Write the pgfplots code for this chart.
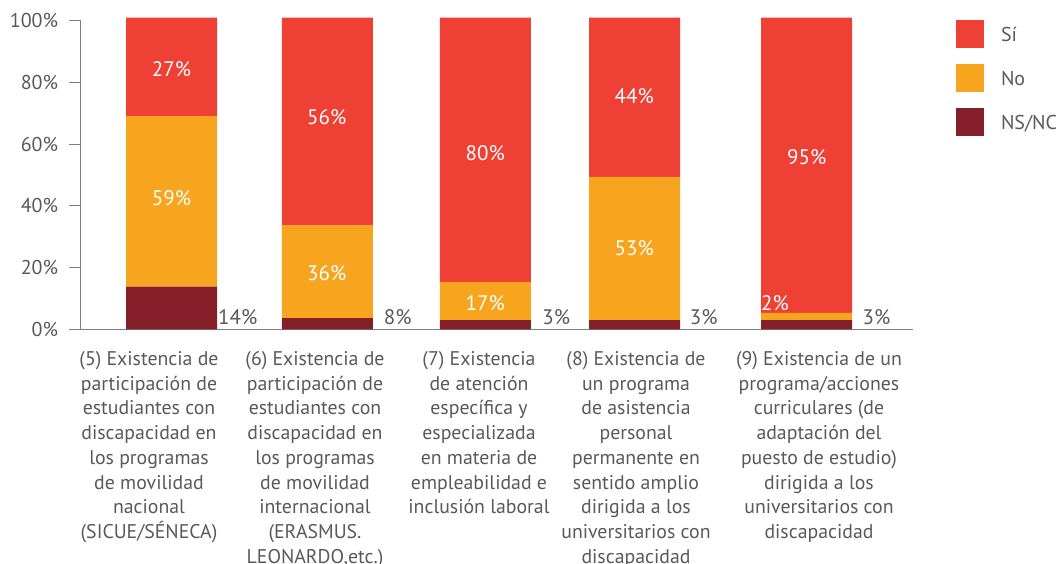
\documentclass[border=0pt]{standalone}
\usepackage{fontspec}
\setmainfont{PT Sans}
\usepackage{pgfplots}
\pgfplotsset{compat=1.18}
\definecolor{cSi}{HTML}{EF4035}
\definecolor{cNo}{HTML}{F7A51E}
\definecolor{cNS}{HTML}{85202A}
\definecolor{cTxt}{HTML}{58595B}
\definecolor{cAx}{HTML}{7F7F7F}
\begin{document}
\begin{tikzpicture}[x=1pt,y=1pt]
\useasboundingbox (0,0) rectangle (1060,-564);
\pgfplotsset{
  base/.style={
    at={(80.7pt,-329.3pt)}, anchor=south west,
    scale only axis, width=832.3pt, height=308.6pt,
    xmin=80.7, xmax=913, ymin=0, ymax=100, clip=false,
  }
}
\begin{axis}[base,
  ybar stacked, bar width=91,
  axis x line=bottom, axis y line=left,
  axis line style={-, cAx, line width=0.8pt},
  ytick={0,20,40,60,80,100},
  yticklabels={0\%,20\%,40\%,60\%,80\%,100\%},
  ytick style={cAx, line width=0.8pt},
  tick align=outside, major tick length=11.7pt,
  yticklabel style={font=\fontsize{20}{22}\selectfont, text=cTxt, anchor=east, inner sep=0pt, xshift=-10.7pt},
  xtick={149,315,479,636,819},
  xtick style={draw=none},
  xticklabels={
    {(5) Existencia de\\participación de\\estudiantes con\\discapacidad en\\los programas\\de movilidad\\nacional\\(SICUE/SÉNECA)},
    {(6) Existencia de\\participación de\\estudiantes con\\discapacidad en\\los programas\\de movilidad\\internacional\\(ERASMUS.\\LEONARDO,etc.)},
    {(7) Existencia\\de atención\\específica y\\especializada\\en materia de\\empleabilidad e\\inclusión laboral},
    {(8) Existencia de\\un programa\\de asistencia\\personal\\permanente en\\sentido amplio\\dirigida a los\\universitarios con\\discapacidad},
    {(9) Existencia de un\\programa/acciones\\curriculares (de\\adaptación del\\puesto de estudio)\\dirigida a los\\universitarios con\\discapacidad}},
  xticklabel style={font=\fontsize{19.8}{24.76}\selectfont, text=cTxt, align=center, anchor=north, inner sep=0pt, yshift=-10pt},
  reverse legend,
  legend image code/.code={\fill[#1] (0pt,-13pt) rectangle (28pt,15pt);},
  legend style={at={(axis cs:956,100.2)}, anchor=north west, draw=none, fill=none,
    inner sep=0pt, outer sep=0pt, row sep=16pt,
    font=\fontsize{20}{22}\selectfont, text=cTxt,
    /tikz/every odd column/.append style={column sep=15pt}},
  legend cell align=left,
]
\addplot[fill=cNS, draw=none] coordinates {(171.5,13.8) (327.3,3.66) (485.3,3.0) (634.5,3.0) (806.5,3.0)};
\addplot[fill=cNo, draw=none] coordinates {(171.5,55.3) (327.3,30.1) (485.3,12.3) (634.5,46.4) (806.5,2.3)};
\addplot[fill=cSi, draw=none] coordinates {(171.5,31.9) (327.3,67.2) (485.3,85.7) (634.5,51.6) (806.5,95.7)};
\legend{NS/NC,No,Sí}
\end{axis}
\begin{axis}[base, hide axis]
\addplot[draw=none, mark=none, nodes near coords={\pgfplotspointmeta\%}, point meta=explicit symbolic,
  every node near coord/.style={anchor=center, inner sep=0pt, text=white, font=\fontsize{21}{22}\selectfont}]
  coordinates {(171.5,84.35)[27] (326.7,68.7)[56] (485.3,57.2)[80] (634.3,75.6)[44] (806.7,55.7)[95]
               (171.5,42.6)[59] (326.7,18.1)[36] (485.3,8.6)[17] (634.3,26.2)[53] (775,8.4)[2]};
\addplot[draw=none, mark=none, nodes near coords={\pgfplotspointmeta\%}, point meta=explicit symbolic,
  every node near coord/.style={anchor=center, inner sep=0pt, text=cTxt, font=\fontsize{21}{22}\selectfont}]
  coordinates {(237.8,4.0)[14] (397.8,4.0)[8] (556.2,4.0)[3] (703.7,4.0)[3] (876.5,4.0)[3]};
\end{axis}
\end{tikzpicture}
\end{document}
